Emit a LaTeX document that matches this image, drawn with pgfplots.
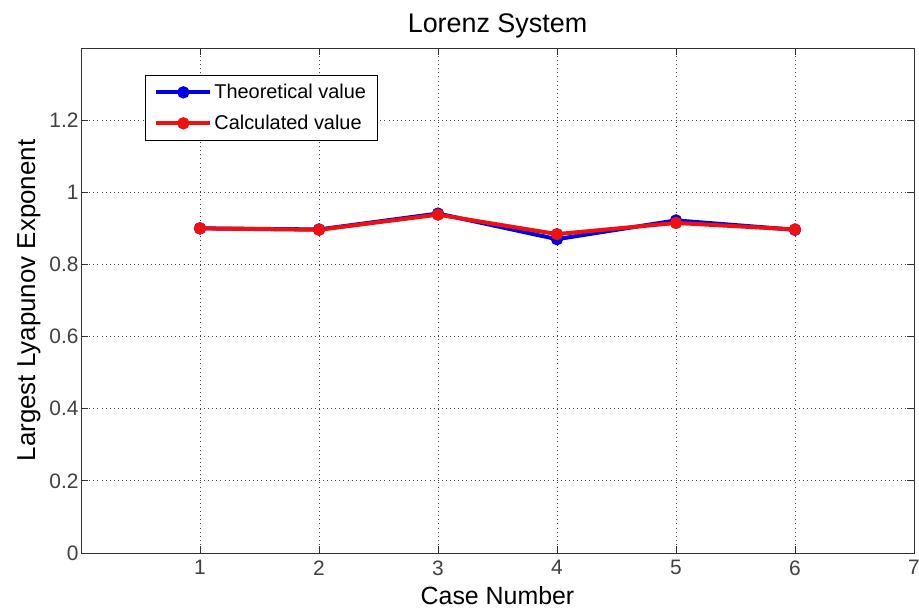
\documentclass[border=0pt]{standalone}
\usepackage{pgfplots}
\pgfplotsset{compat=1.18}
\usepackage{fontspec}
\setmainfont{Liberation Sans}
\definecolor{axgray}{HTML}{303030}
\definecolor{mblue}{HTML}{0000E6}
\definecolor{mred}{HTML}{F01010}
\begin{document}
\begin{tikzpicture}
\useasboundingbox (-81bp,-56bp) rectangle (838bp,553bp);
\begin{axis}[
  at={(0,0)}, anchor=south west,
  scale only axis,
  width=833bp, height=505bp,
  xmin=0, xmax=7, ymin=0, ymax=1.4,
  xtick={1,2,3,4,5,6,7},
  ytick={0,0.2,0.4,0.6,0.8,1,1.2},
  yticklabel style={/pgf/number format/fixed, xshift=1bp},
  xticklabel style={yshift=-4bp},
  /pgf/number format/assume math mode=true,
  tick label style={font=\fontsize{21}{24}\selectfont, color=black!75},
  tick align=inside,
  major tick length=7bp,
  tick style={axgray, line width=0.8pt},
  axis line style={axgray, line width=0.8pt},
  grid=major,
  major grid style={black!75, dash pattern=on 0.9bp off 3.2bp, line width=0.8pt},
  title={Lorenz System},
  title style={font=\fontsize{27}{30}\selectfont, yshift=0bp},
  xlabel={Case Number},
  ylabel={Largest Lyapunov Exponent},
  xlabel style={font=\fontsize{25}{28}\selectfont, yshift=-4bp},
  ylabel style={font=\fontsize{26}{29}\selectfont, yshift=2bp},
  legend style={at={(0.0768,0.9465)}, anchor=north west,
    draw=black, line width=0.8pt, font=\fontsize{20}{23}\selectfont,
    inner xsep=9bp, inner ysep=7bp, row sep=11bp,
    /tikz/every even column/.append style={column sep=1bp},
    nodes={inner sep=2bp}},
  legend cell align=left,
  legend image code/.code={%
    \draw[mark repeat=2, mark phase=2]
      plot coordinates {(0bp,0bp) (27bp,0bp) (54bp,0bp)};},
]
\addplot[mblue, line width=4bp, mark=*, mark size=5.6bp,
  mark options={solid, line width=1.2bp}]
  coordinates {(1,0.900) (2,0.897) (3,0.941) (4,0.870) (5,0.922) (6,0.896)};
\addlegendentry{Theoretical value}
\addplot[mred, line width=4bp, mark=*, mark size=5.6bp,
  mark options={solid, line width=1.2bp}]
  coordinates {(1,0.900) (2,0.896) (3,0.938) (4,0.884) (5,0.915) (6,0.897)};
\addlegendentry{Calculated value}
\end{axis}
\end{tikzpicture}
\end{document}
